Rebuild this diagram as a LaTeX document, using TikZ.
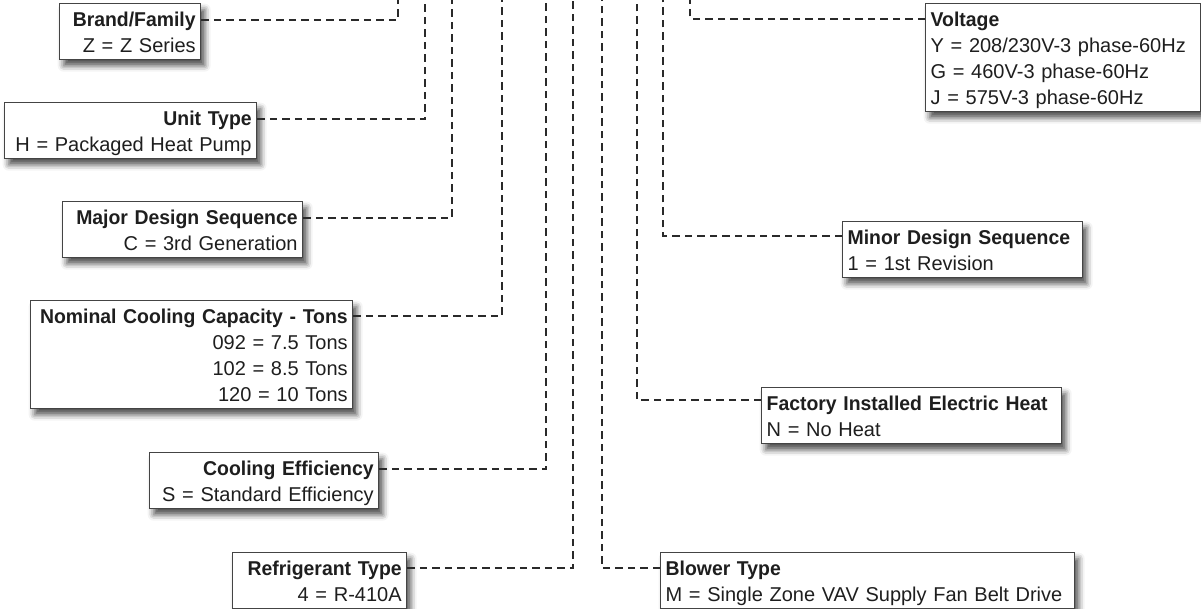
\documentclass[tikz,border=0pt]{standalone}
\usepackage{fontspec}
\setmainfont{Liberation Sans}[BoldFeatures={FakeStretch=0.97}]
\usetikzlibrary{calc,shadows.blur}
\definecolor{txt}{HTML}{1E1E1E}
\definecolor{boxline}{HTML}{444444}
\definecolor{dashc}{HTML}{2A2A2A}
\newcommand\lnstrut{\rule[-4.5pt]{0pt}{24pt}}
\begin{document}
\begin{tikzpicture}[x=1pt,y=-1pt,
  box/.style={draw=boxline, line width=1.3pt, fill=white,
    blur shadow={shadow xshift=4pt, shadow yshift=-6pt, shadow blur radius=6pt, shadow opacity=70},
    inner xsep=5pt, inner ysep=3pt, anchor=north west,
    font=\fontsize{20}{26}\selectfont, text=txt},
  lbox/.style={box, align=right},
  rbox/.style={box, align=left},
  conn/.style={draw=dashc, line width=2.5pt, dash pattern=on 7.5pt off 5pt}]
\useasboundingbox (0,0) rectangle (1201,609);

% top coordinates of the vertical leaders
\coordinate (tBrand) at (398,-2);
\coordinate (tUnit) at (425,-2);
\coordinate (tMajor) at (452,-2);
\coordinate (tCap) at (502,-2);
\coordinate (tEff) at (546,-2);
\coordinate (tRef) at (573,-2);
\coordinate (tBlow) at (602,-2);
\coordinate (tHeat) at (637,-2);
\coordinate (tMinor) at (663,-2);
\coordinate (tVolt) at (690,-2);

% left boxes
\node[lbox, text width=131pt] (brand) at (59,3)
  {\lnstrut\textbf{Brand/Family}\\\lnstrut Z = Z Series};
\node[lbox, text width=242pt] (unit) at (4,102)
  {\lnstrut\textbf{Unit Type}\\\lnstrut H = Packaged Heat Pump};
\node[lbox, text width=230pt] (major) at (62,201)
  {\lnstrut\textbf{Major Design Sequence}\\\lnstrut C = 3rd Generation};
\node[lbox, text width=312pt] (cap) at (30,300)
  {\lnstrut\textbf{Nominal Cooling Capacity - Tons}\\\lnstrut 092 = 7.5 Tons\\\lnstrut 102 = 8.5 Tons\\\lnstrut 120 = 10 Tons};
\node[lbox, text width=219pt] (eff) at (149,452)
  {\lnstrut\textbf{Cooling Efficiency}\\\lnstrut S = Standard Efficiency};
\node[lbox, text width=164pt] (ref) at (232,552)
  {\lnstrut\textbf{Refrigerant Type}\\\lnstrut 4 = R-410A};

% right boxes
\node[rbox, text width=265pt] (volt) at (925,3)
  {\lnstrut\textbf{Voltage}\\\lnstrut Y = 208/230V-3 phase-60Hz\\\lnstrut G = 460V-3 phase-60Hz\\\lnstrut J = 575V-3 phase-60Hz};
\node[rbox, text width=230pt] (minor) at (842,221)
  {\lnstrut\textbf{Minor Design Sequence}\\\lnstrut 1 = 1st Revision};
\node[rbox, text width=290pt] (heat) at (761,387)
  {\lnstrut\textbf{Factory Installed Electric Heat}\\\lnstrut N = No Heat};
\node[rbox, text width=404pt] (blow) at (660,552)
  {\lnstrut\textbf{Blower Type}\\\lnstrut M = Single Zone VAV Supply Fan Belt Drive};

% leaders
\draw[conn] ($(brand.north east)+(0pt,-17pt)$) -| (tBrand);
\draw[conn] ($(unit.north east)+(0pt,-17pt)$) -| (tUnit);
\draw[conn] ($(major.north east)+(0pt,-17pt)$) -| (tMajor);
\draw[conn] ($(cap.north east)+(0pt,-16pt)$) -| (tCap);
\draw[conn] ($(eff.north east)+(0pt,-17pt)$) -| (tEff);
\draw[conn] ($(ref.north east)+(0pt,-16pt)$) -| (tRef);
\draw[conn] ($(volt.north west)+(0pt,-16pt)$) -| (tVolt);
\draw[conn] ($(minor.north west)+(0pt,-15pt)$) -| (tMinor);
\draw[conn] ($(heat.north west)+(0pt,-13pt)$) -| (tHeat);
\draw[conn] ($(blow.north west)+(0pt,-16pt)$) -| (tBlow);
\end{tikzpicture}
\end{document}
